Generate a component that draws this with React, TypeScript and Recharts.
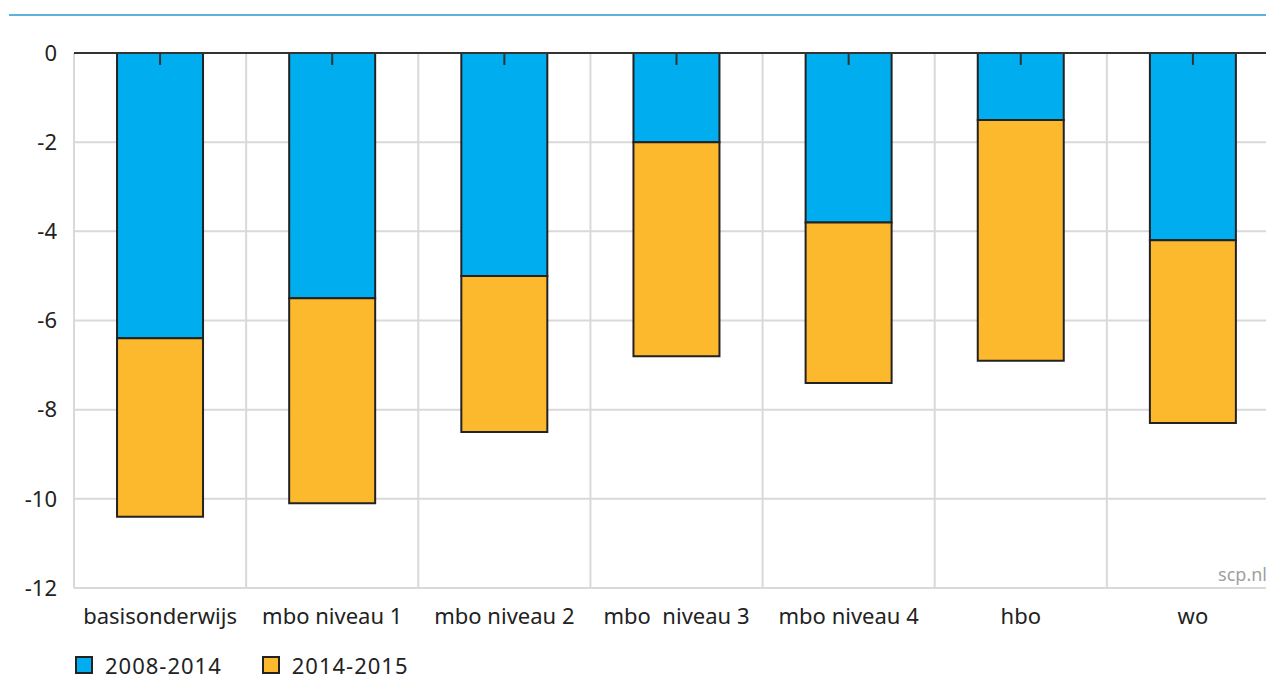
import React from 'react';
import { BarChart, Bar, XAxis, YAxis, CartesianGrid, ReferenceLine, Legend } from 'recharts';

const categories = ['basisonderwijs', 'mbo niveau 1', 'mbo niveau 2', 'mbo  niveau 3', 'mbo niveau 4', 'hbo', 'wo'];
const period1 = [-6.4, -5.5, -5.0, -2.0, -3.8, -1.5, -4.2]; // 2008-2014
const period2 = [-4.0, -4.6, -3.5, -4.8, -3.6, -5.4, -4.1]; // 2014-2015
const yTicks = [-12, -10, -8, -6, -4, -2, 0];
const seriesNames = ['2008-2014', '2014-2015'];

const BLUE = '#00adef';
const YELLOW = '#fdb92e';
const INK = '#222';
const FONT = '"Noto Sans", "Open Sans", sans-serif';

const data = categories.map((name, i) => ({ name, p1: period1[i], p2: period2[i] }));

const CategoryTick = (props: any) => {
    const { x, y, payload } = props;
    return (
        <text x={x} y={y} dy="0.71em" textAnchor="middle" fill={INK} fontSize={22} fontFamily={FONT} style={{ whiteSpace: 'pre' }}>
            {payload.value}
        </text>
    );
};

// tick marks hanging from the zero line at each category centre, no labels
const NoLabel = () => <g />;

const LegendContent = () => (
    <div style={{ display: 'flex', alignItems: 'center', fontFamily: FONT, fontSize: 22, color: INK, height: 30 }}>
        {seriesNames.map((n, i) => (
            <div key={n} style={{ display: 'flex', alignItems: 'center', marginRight: 40 }}>
                <span style={{ width: 14, height: 14, border: `2px solid ${INK}`, background: i === 0 ? BLUE : YELLOW, marginRight: 12, display: 'inline-block' }} />
                <span style={{ letterSpacing: 1 }}>{n}</span>
            </div>
        ))}
    </div>
);

export default function App() {
    return (
        <div style={{ position: 'relative', width: 1266, height: 671, overflow: 'hidden', fontFamily: FONT }}>
            <div style={{ position: 'absolute', top: 6, left: 1, right: 0, height: 2, background: '#5bb3dc' }} />
            <BarChart
                width={1280}
                height={671}
                data={data}
                margin={{ top: 45, right: 9, left: 0, bottom: 0 }}
                barCategoryGap="25%"
            >
                <CartesianGrid
                    stroke="#d9d9d9"
                    strokeWidth={2}
                    verticalCoordinatesGenerator={({ offset }: any) =>
                        categories.map((_, i) => offset.left + (i * offset.width) / categories.length)
                    }
                />
                <XAxis
                    dataKey="name"
                    height={91}
                    axisLine={false}
                    tickLine={false}
                    tickSize={0}
                    tickMargin={20}
                    interval={0}
                    tick={<CategoryTick />}
                />
                <XAxis
                    xAxisId="top"
                    dataKey="name"
                    orientation="top"
                    mirror
                    interval={0}
                    axisLine={false}
                    tick={<NoLabel />}
                    tickSize={12}
                    tickLine={{ stroke: '#333', strokeWidth: 2 }}
                />
                <YAxis
                    width={66}
                    domain={[-12, 0]}
                    ticks={yTicks}
                    interval={0}
                    axisLine={false}
                    tickLine={false}
                    tickSize={0}
                    tickMargin={17}
                    tick={{ fill: INK, fontSize: 22, fontFamily: FONT }}
                />
                <Bar dataKey="p1" name={seriesNames[0]} stackId="a" fill={BLUE} stroke={INK} strokeWidth={2} isAnimationActive={false} />
                <Bar dataKey="p2" name={seriesNames[1]} stackId="a" fill={YELLOW} stroke={INK} strokeWidth={2} isAnimationActive={false} />
                <ReferenceLine y={0} stroke="#333" strokeWidth={2} />
                <Legend
                    layout="vertical"
                    align="center"
                    verticalAlign="middle"
                    content={<LegendContent />}
                    wrapperStyle={{ top: 642, left: 67, width: 500, height: 30 }}
                />
            </BarChart>
            <div style={{ position: 'absolute', right: 7, top: 554, fontSize: 18, color: '#a0a0a0', fontFamily: FONT }}>scp.nl</div>
        </div>
    );
}
